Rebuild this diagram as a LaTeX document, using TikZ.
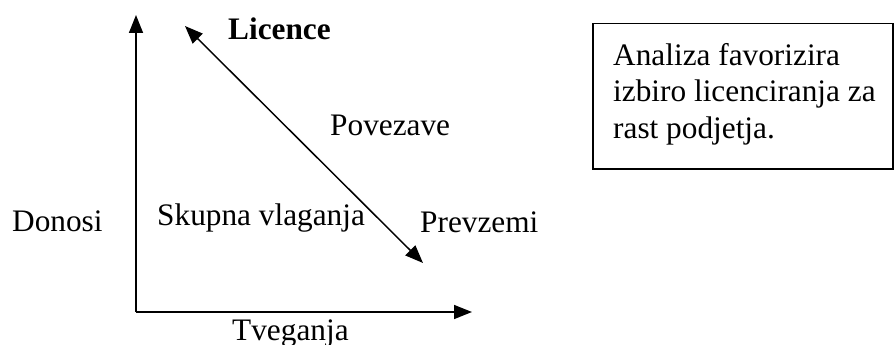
\documentclass[tikz,border=0pt]{standalone}
\usepackage{fontspec}
\setmainfont{Liberation Serif}
\usetikzlibrary{arrows.meta}
\begin{document}
\begin{tikzpicture}[x=1pt,y=-1pt,
  axis/.style={line width=1.5pt,-{Triangle[length=18pt,width=14pt]}},
  both/.style={line width=1.5pt,{Triangle[length=18pt,width=14pt]}-{Triangle[length=18pt,width=14pt]}},
  lbl/.style={anchor=base west,inner sep=0pt,font=\fontsize{31.3}{36.7}\selectfont},
  frame/.style={draw,line width=1.5pt,anchor=north west,minimum width=300pt,minimum height=145pt,inner sep=0pt}]
\useasboundingbox (0,0) rectangle (894,345);
% axes
\coordinate (origin) at (136,312);
\coordinate (ytip) at (136,15);
\coordinate (xtip) at (472,312);
\draw[axis] (origin) -- (ytip);
\draw[axis] (origin) -- (xtip);
% diagonal scale of entry modes
\coordinate (hi) at (185,26);
\coordinate (lo) at (423,263);
\draw[both] (lo) -- (hi);
% labels
\node[lbl,font=\fontsize{31.3}{36.7}\selectfont\bfseries] (licence) at (228,40) {Licence};
\node[lbl] (povezave) at (330,135) {Povezave};
\node[lbl] (skupna) at (157,225) {Skupna vlaganja};
\node[lbl] (prevzemi) at (420,232) {Prevzemi};
\node[lbl] (donosi) at (12,231) {Donosi};
\node[lbl] (tveganja) at (232,340) {Tveganja};
% note box (base anchor sits on the last line)
\node[frame] (box) at (592,23) {};
\node[lbl,align=left] (note) at (613,138.4) {Analiza favorizira\\izbiro licenciranja za\\rast podjetja.};
\end{tikzpicture}
\end{document}
